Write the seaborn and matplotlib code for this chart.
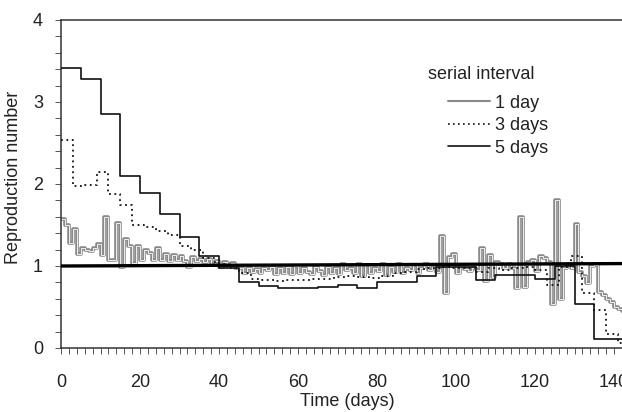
import matplotlib
matplotlib.use('Agg')
import pandas as pd
import matplotlib.pyplot as plt
import seaborn as sns
from matplotlib.lines import Line2D
from matplotlib.ticker import MultipleLocator

# serial interval = 1 day (daily estimates, day 0..142)
r_1day = [1.57, 1.50, 1.28, 1.45, 1.15, 1.22, 1.20, 1.18, 1.22, 1.27,
          1.14, 1.60, 1.07, 1.07, 1.52, 0.99, 1.33, 1.24, 1.04, 1.24,
          1.07, 1.20, 1.16, 1.07, 1.22, 1.07, 1.15, 1.06, 1.13, 1.07,
          1.12, 1.06, 0.99, 1.11, 1.06, 1.09, 1.05, 1.08, 1.03, 1.06,
          0.99, 1.05, 1.03, 1.04, 0.98, 0.97, 0.92, 0.98, 0.93, 0.96,
          0.91, 0.98, 0.95, 0.99, 0.90, 0.97, 0.92, 0.99, 0.90, 1.00,
          0.91, 0.98, 0.93, 0.90, 0.99, 0.94, 0.89, 0.99, 0.92, 0.98,
          0.90, 1.02, 0.95, 0.97, 0.91, 1.02, 0.88, 1.01, 0.91, 0.98,
          0.94, 1.02, 0.89, 0.99, 0.93, 1.03, 0.91, 0.97, 0.95, 1.01,
          0.92, 0.97, 1.03, 0.95, 0.99, 0.93, 1.37, 0.67, 1.11, 1.15,
          0.92, 1.00, 0.96, 0.94, 0.98, 0.95, 1.22, 0.82, 1.13, 0.87,
          1.05, 1.03, 0.97, 1.02, 0.98, 0.73, 1.60, 0.74, 1.05, 1.07,
          0.94, 1.12, 1.10, 1.05, 0.54, 1.80, 0.60, 0.98, 1.02, 0.97,
          1.51, 0.93, 0.88, 0.79, 1.00, 1.01, 0.68, 0.65, 0.60, 0.56,
          0.50, 0.47, 0.45]
days_1 = list(range(len(r_1day)))

# serial interval = 3 days
days_3 = list(range(0, 147, 3))
r_3day = [2.54, 1.97, 1.99, 2.15, 1.88, 1.74, 1.50, 1.48, 1.43, 1.38,
          1.24, 1.20, 1.10, 1.03, 0.98, 0.91, 0.84, 0.83, 0.82, 0.83,
          0.83, 0.84, 0.84, 0.86, 0.88, 0.87, 0.85, 0.88, 0.92, 0.93,
          0.96, 0.97, 0.99, 0.98, 0.97, 0.93, 0.98, 0.95, 0.97, 0.99,
          0.95, 0.77, 0.99, 1.12, 0.67, 0.46, 0.17, 0.06, 0.06]

# serial interval = 5 days
days_5 = list(range(0, 150, 5))
r_5day = [3.42, 3.28, 2.85, 2.10, 1.89, 1.63, 1.35, 1.12, 0.97, 0.81,
          0.76, 0.73, 0.73, 0.75, 0.77, 0.73, 0.81, 0.80, 0.88, 0.99,
          0.99, 0.83, 0.89, 0.89, 0.84, 1.00, 0.54, 0.11, 0.11, 0.11]

# threshold line R = 1
ref_x = [0, 145]
ref_y = [1.0, 1.03]

df1 = pd.DataFrame({'day': days_1, 'R': r_1day})
df3 = pd.DataFrame({'day': days_3, 'R': r_3day})
df5 = pd.DataFrame({'day': days_5, 'R': r_5day})
dref = pd.DataFrame({'day': ref_x, 'R': ref_y})

sns.set_style('ticks')
plt.rcParams['font.family'] = ['Liberation Sans', 'DejaVu Sans']

fig = plt.figure(figsize=(6.22, 4.12), dpi=100)
ax = fig.add_axes([61 / 622, 64 / 412, 572.75 / 622, 328 / 412])

grey = '#8a8a8a'
sns.lineplot(data=df1, x='day', y='R', ax=ax, color=grey, lw=2.6,
             drawstyle='steps-post', estimator=None, zorder=2)
sns.lineplot(data=df1, x='day', y='R', ax=ax, color='white', lw=0.6,
             drawstyle='steps-post', estimator=None, zorder=2.1)
sns.lineplot(data=df3, x='day', y='R', ax=ax, color='#111111', lw=1.3,
             linestyle=(0, (1, 2)), drawstyle='steps-post', estimator=None, zorder=3)
sns.lineplot(data=df5, x='day', y='R', ax=ax, color='#111111', lw=1.2,
             drawstyle='steps-post', estimator=None, zorder=4)
sns.lineplot(data=dref, x='day', y='R', ax=ax, color='black', lw=2.4,
             estimator=None, zorder=5)

ax.set_xlim(0, 145)
ax.set_ylim(0, 4)
ax.xaxis.set_major_locator(MultipleLocator(20))
ax.xaxis.set_minor_locator(MultipleLocator(2))
ax.yaxis.set_major_locator(MultipleLocator(1))
ax.yaxis.set_minor_locator(MultipleLocator(0.2))
ax.tick_params(axis='x', which='both', direction='out', length=4, width=0.7,
               colors='#555555', labelcolor='#222222', labelsize=13, pad=15)
ax.tick_params(axis='y', which='both', direction='out', length=4, width=0.7,
               colors='#555555', labelcolor='#222222', labelsize=13, pad=9)
for side in ['left', 'bottom', 'top', 'right']:
    ax.spines[side].set_visible(True)
    ax.spines[side].set_color('#333333')
    ax.spines[side].set_linewidth(1.1)

ax.set_xlabel('Time (days)', fontsize=13, color='#222222')
ax.xaxis.set_label_coords(0.5, -0.138)
ax.set_ylabel('Reproduction number', fontsize=13, color='#222222')
ax.yaxis.set_label_coords(-0.068, 0.52)

ax.text(92.9, 3.34, 'serial interval', fontsize=13, color='#222222',
        ha='left', va='center')
handles = [Line2D([], [], color=grey, lw=1.5),
           Line2D([], [], color='#111111', lw=1.2, linestyle=(0, (1, 2))),
           Line2D([], [], color='#111111', lw=1.2)]
ax.legend(handles, ['1 day', '3 days', '5 days'], loc='upper left',
          bbox_to_anchor=(0.676, 0.772), frameon=False, fontsize=13,
          handlelength=2.3, handletextpad=0.3, labelspacing=0.3,
          borderpad=0, borderaxespad=0, labelcolor='#222222')

fig.savefig('out.png', dpi=100)
